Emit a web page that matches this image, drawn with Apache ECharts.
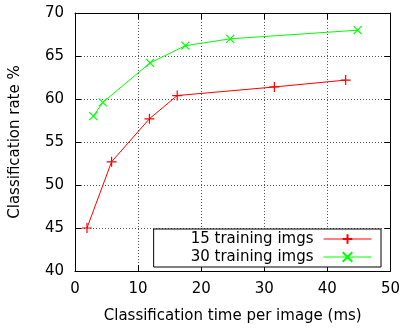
<!DOCTYPE html>
<html><head><meta charset="utf-8">
<script src="https://cdn.jsdelivr.net/npm/echarts@6/dist/echarts.min.js"></script>
<style>html,body{margin:0;padding:0;background:#fff}#c{width:403px;height:329px}</style>
</head><body><div id="c"></div>
<script>
var xTicks = [0, 10, 20, 30, 40, 50];
var yTicks = [40, 45, 50, 55, 60, 65, 70];
var seriesNames = ['15 training imgs', '30 training imgs'];
var time15 = [1.9, 5.8, 11.8, 16.2, 31.6, 42.9];
var rate15 = [45.0, 52.7, 57.7, 60.4, 61.4, 62.2];
var time30 = [2.9, 4.4, 11.9, 17.5, 24.6, 44.8];
var rate30 = [58.0, 59.6, 64.2, 66.2, 67.0, 68.0];

function pairs(xs, ys){ return xs.map(function(x,i){return [x, ys[i]];}); }
var plus = 'path://M0,5L10,5M5,0L5,10';
var cross = 'path://M0,0L10,10M0,10L10,0';
var font = 'DejaVu Sans';
var FS = 15;
var ax = {
  axisLine: {show: true, onZero: false, lineStyle: {color: '#000', width: 1}},
  axisTick: {show: true, inside: true, length: 6, lineStyle: {color: '#000'}},
  axisLabel: {color: '#000', fontFamily: font, fontSize: FS},
  splitLine: {show: false}
};
function mk(o){ return Object.assign(JSON.parse(JSON.stringify(ax)), o); }
var chart = echarts.init(document.getElementById('c'), null, {renderer: 'canvas'});
chart.setOption({
  animation: false,
  backgroundColor: '#fff',
  grid: {left: 75, right: 11, top: 13, bottom: 55, containLabel: false},
  xAxis: [
    mk({type: 'value', position: 'bottom', min: xTicks[0], max: xTicks[xTicks.length-1], interval: 10,
      name: 'Classification time per image (ms)', nameLocation: 'middle', nameGap: 38,
      nameTextStyle: {color: '#000', fontFamily: font, fontSize: FS},
      axisLabel: {color: '#000', fontFamily: font, fontSize: FS, margin: 11},
      splitLine: {show: true, lineStyle: {color: '#555', type: [1, 2], width: 1}}}),
    mk({type: 'value', position: 'top', min: xTicks[0], max: xTicks[xTicks.length-1], interval: 10,
      axisLabel: {show: false}})
  ],
  yAxis: [
    mk({type: 'value', position: 'left', min: yTicks[0], max: yTicks[yTicks.length-1], interval: 5,
      name: 'Classification rate %', nameLocation: 'middle', nameGap: 52, nameRotate: 90,
      nameTextStyle: {color: '#000', fontFamily: font, fontSize: FS},
      axisLabel: {color: '#000', fontFamily: font, fontSize: FS, margin: 11},
      splitLine: {show: true, lineStyle: {color: '#555', type: [1, 2], width: 1}}}),
    mk({type: 'value', position: 'right', min: yTicks[0], max: yTicks[yTicks.length-1], interval: 5,
      axisLabel: {show: false}})
  ],
  legend: {
    orient: 'vertical', right: 22, bottom: 62, align: 'right',
    backgroundColor: '#fff', borderColor: '#000', borderWidth: 1, borderRadius: 0,
    padding: [1, 9, 1, 37], itemGap: 0, itemWidth: 48, itemHeight: 12,
    lineStyle: {width: 1},
    textStyle: {color: '#000', fontFamily: font, fontSize: FS, lineHeight: 18, padding: [0, 5, 0, 0]},
    data: seriesNames
  },
  series: [
    {name: seriesNames[0], type: 'line', data: pairs(time15, rate15),
      symbol: plus, symbolSize: 10, showAllSymbol: true,
      lineStyle: {color: '#ff0000', width: 1},
      itemStyle: {color: '#ff0000', borderColor: '#ff0000', borderWidth: 1.2}},
    {name: seriesNames[1], type: 'line', data: pairs(time30, rate30),
      symbol: cross, symbolSize: 8, showAllSymbol: true,
      lineStyle: {color: '#00ff00', width: 1},
      itemStyle: {color: '#00ff00', borderColor: '#00ff00', borderWidth: 1.2}}
  ]
});
</script></body></html>
